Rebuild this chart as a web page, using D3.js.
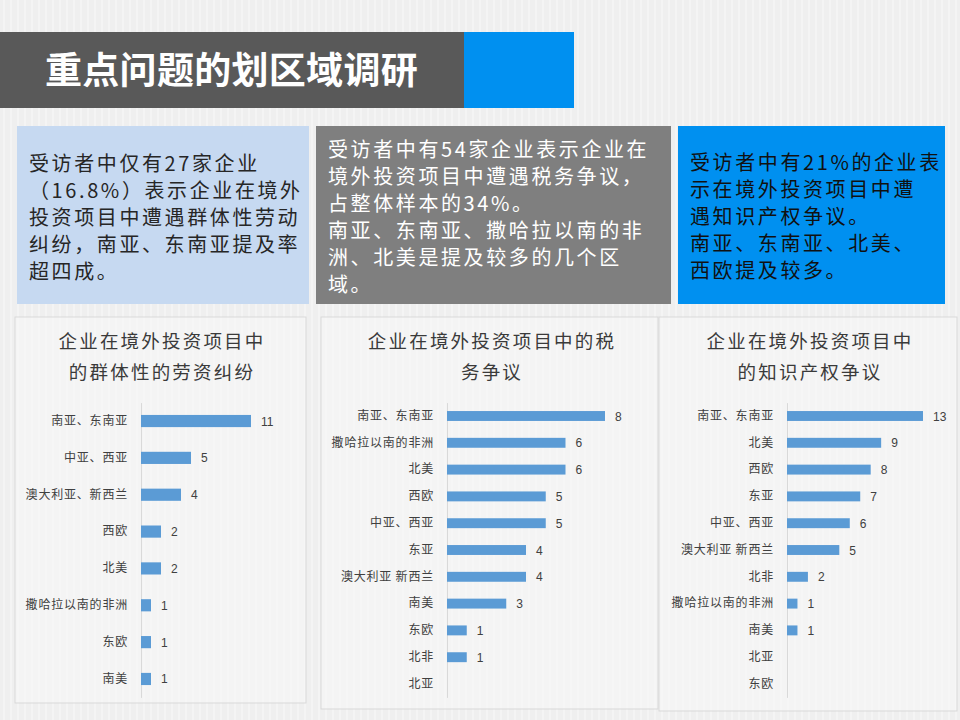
<!DOCTYPE html>
<html><head><meta charset="utf-8">
<script src="https://cdn.jsdelivr.net/npm/d3@7/dist/d3.min.js"></script>
<style>
html,body{margin:0;padding:0;background:#eeeeee;}
svg{display:block;font-family:"Noto Sans CJK SC","Noto Sans",sans-serif;}
</style></head>
<body>
<svg id="c" width="960" height="720"></svg>
<script>
// ---- data ----
const pageTitle = "重点问题的划区域调研";
const box1Lines = ["受访者中仅有27家企业", "（16.8%）表示企业在境外", "投资项目中遭遇群体性劳动", "纠纷，南亚、东南亚提及率", "超四成。"];
const box2Lines = ["受访者中有54家企业表示企业在", "境外投资项目中遭遇税务争议，", "占整体样本的34%。", "南亚、东南亚、撒哈拉以南的非", "洲、北美是提及较多的几个区", "域。"];
const box3Lines = ["受访者中有21%的企业表", "示在境外投资项目中遭", "遇知识产权争议。", "南亚、东南亚、北美、", "西欧提及较多。"];

const chart1Title = ["企业在境外投资项目中", "的群体性的劳资纠纷"];
const chart1Cats = ["南亚、东南亚", "中亚、西亚", "澳大利亚、新西兰", "西欧", "北美", "撒哈拉以南的非洲", "东欧", "南美"];
const chart1Vals = [11, 5, 4, 2, 2, 1, 1, 1];

const chart2Title = ["企业在境外投资项目中的税", "务争议"];
const chart2Cats = ["南亚、东南亚", "撒哈拉以南的非洲", "北美", "西欧", "中亚、西亚", "东亚", "澳大利亚 新西兰", "南美", "东欧", "北非", "北亚"];
const chart2Vals = [8, 6, 6, 5, 5, 4, 4, 3, 1, 1, null];

const chart3Title = ["企业在境外投资项目中", "的知识产权争议"];
const chart3Cats = ["南亚、东南亚", "北美", "西欧", "东亚", "中亚、西亚", "澳大利亚 新西兰", "北非", "撒哈拉以南的非洲", "南美", "北亚", "东欧"];
const chart3Vals = [13, 9, 8, 7, 6, 5, 2, 1, 1, null, null];

// ---- drawing ----
const svg = d3.select("#c");
const defs = svg.append("defs");
const pat = defs.append("pattern").attr("id","stripes").attr("patternUnits","userSpaceOnUse")
  .attr("width",7).attr("height",720);
pat.append("rect").attr("width",7).attr("height",720).attr("fill","#efefef");
pat.append("rect").attr("x",3).attr("width",2).attr("height",720).attr("fill","#f4f4f4");
svg.append("rect").attr("width",960).attr("height",720).attr("fill","url(#stripes)");

// title bar
svg.append("rect").attr("x",0).attr("y",32).attr("width",464).attr("height",76).attr("fill","#595959");
svg.append("rect").attr("x",464).attr("y",32).attr("width",110).attr("height",76).attr("fill","#0090f0");
svg.append("text").attr("x",45).attr("y",84).attr("fill","#ffffff")
  .attr("font-size",37).attr("letter-spacing",0.3).attr("font-weight","bold").text(pageTitle);

// text boxes
function textBox(x, y, w, h, bg, color, lines, firstCenter) {
  svg.append("rect").attr("x",x).attr("y",y).attr("width",w).attr("height",h).attr("fill",bg);
  const t = svg.append("text").attr("fill",color).attr("font-size",20).attr("letter-spacing",2.6);
  lines.forEach((l,i)=>{
    t.append("tspan").attr("x",x+12).attr("y",firstCenter + i*27 + 7).text(l);
  });
}
textBox(17,126,292,178,"#c6d9f1","#262626",box1Lines,164);
textBox(316,126,355,178,"#7f7f7f","#ffffff",box2Lines,150);
textBox(678,126,267,178,"#0090f0","#111111",box3Lines,163);

// charts
function barChart(opt) {
  const g = svg.append("g");
  g.append("rect").attr("x",opt.px).attr("y",317).attr("width",opt.pw).attr("height",opt.ph)
    .attr("fill","#f6f6f6").attr("fill-opacity",0.6).attr("stroke","#d9d9d9").attr("stroke-width",1);
  const tt = g.append("text").attr("text-anchor","middle").attr("fill","#3a3a3a")
    .attr("font-size",18.5).attr("letter-spacing",2.2);
  opt.title.forEach((l,i)=>{
    tt.append("tspan").attr("x",opt.tx).attr("y",348 + i*31).text(l);
  });
  const y = d3.scaleBand().domain(opt.cats).range([402.6, 697.4]).paddingInner(opt.pad).paddingOuter(opt.pad/2);
  const x = d3.scaleLinear().domain([0, opt.dmax]).range([opt.ax, opt.axEnd]);
  // category axis
  const axis = d3.axisLeft(y).tickSize(0).tickPadding(13);
  const ag = g.append("g").attr("transform",`translate(${opt.ax},0)`).call(axis);
  ag.select(".domain").attr("stroke","#d9d9d9");
  ag.selectAll("text").attr("font-size",12).attr("fill","#404040")
    .attr("font-family","'Noto Sans CJK SC',sans-serif").attr("letter-spacing",0.8);
  const data = opt.cats.map((c,i)=>({c, v: opt.vals[i]})).filter(d=>d.v!=null);
  g.selectAll("rect.bar").data(data).join("rect").attr("class","bar")
    .attr("x",x(0)).attr("y",d=>y(d.c)).attr("height",y.bandwidth())
    .attr("width",d=>x(d.v)-x(0)).attr("fill","#5b9bd5");
  g.selectAll("text.val").data(data).join("text").attr("class","val")
    .attr("x",d=>x(d.v)+10).attr("y",d=>y(d.c)+y.bandwidth()/2+4.5)
    .attr("font-size",12).attr("fill","#404040").attr("font-family","'Liberation Sans',sans-serif")
    .text(d=>d.v);
}
barChart({px:15,pw:291,ph:386,tx:162,title:chart1Title,cats:chart1Cats,vals:chart1Vals,pad:0.67,ax:141,axEnd:251,dmax:11});
barChart({px:321,pw:337,ph:392,tx:492,title:chart2Title,cats:chart2Cats,vals:chart2Vals,pad:0.63,ax:447,axEnd:605,dmax:8});
barChart({px:659,pw:298,ph:394,tx:810,title:chart3Title,cats:chart3Cats,vals:chart3Vals,pad:0.63,ax:787,axEnd:923,dmax:13});
</script>
</body></html>
